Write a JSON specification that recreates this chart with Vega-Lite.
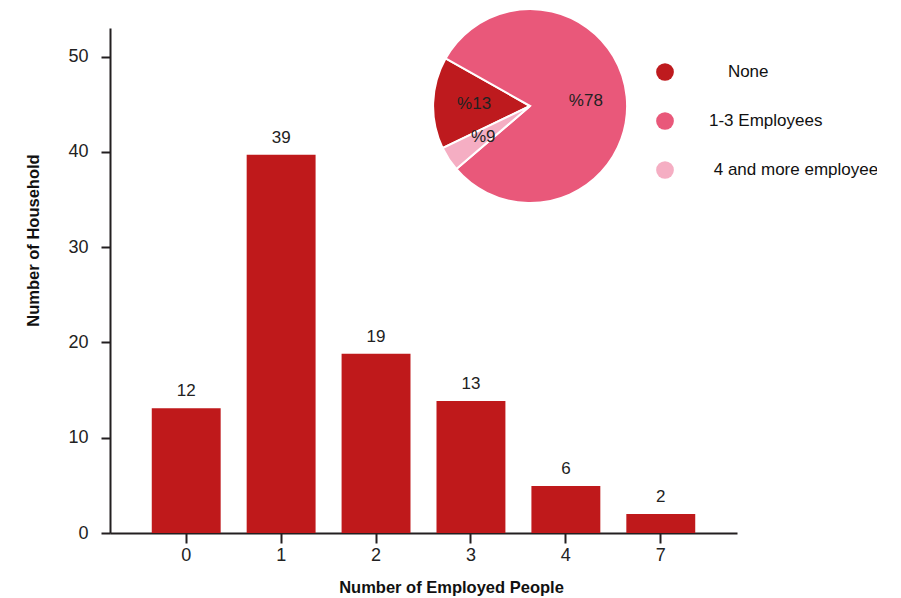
{
  "$schema": "https://vega.github.io/schema/vega-lite/v6.json",
  "autosize": {"type": "none"},
  "width": 627,
  "height": 505,
  "padding": {"left": 110, "top": 28, "right": 140, "bottom": 65},
  "background": "white",
  "config": {
    "view": {"stroke": null},
    "font": "Liberation Sans",
    "axis": {
      "domainColor": "#231F20",
      "domainWidth": 2,
      "tickColor": "#231F20",
      "tickWidth": 2,
      "labelFont": "Liberation Sans",
      "labelFontSize": 18,
      "labelColor": "#222222",
      "titleFont": "Liberation Sans",
      "titleFontSize": 16.5,
      "titleFontWeight": "bold",
      "titleColor": "#111111",
      "grid": false
    }
  },
  "layer": [
    {
      "data": {
        "values": [
          {"employed": "0", "households": 13.1, "label": "12"},
          {"employed": "1", "households": 39.7, "label": "39"},
          {"employed": "2", "households": 18.8, "label": "19"},
          {"employed": "3", "households": 13.85, "label": "13"},
          {"employed": "4", "households": 4.93, "label": "6"},
          {"employed": "7", "households": 2.0, "label": "2"}
        ]
      },
      "encoding": {
        "x": {
          "field": "employed",
          "type": "ordinal",
          "sort": null,
          "scale": {"paddingInner": 0.274, "paddingOuter": 0.44},
          "axis": {
            "title": "Number of Employed People",
            "labelAngle": 0,
            "tickSize": 10,
            "labelPadding": 3,
            "titleX": 341,
            "titleY": 54,
            "titleAlign": "center",
            "titleBaseline": "middle"
          }
        },
        "y": {
          "field": "households",
          "type": "quantitative",
          "scale": {"domain": [0, 53], "nice": false},
          "axis": {
            "title": "Number of Household",
            "values": [0, 10, 20, 30, 40, 50],
            "tickSize": 9,
            "labelPadding": 13,
            "titleX": -77,
            "titleY": 212,
            "titleAlign": "center",
            "titleBaseline": "middle",
            "titleAngle": -90
          }
        }
      },
      "layer": [
        {"mark": {"type": "bar", "color": "#BF191B"}},
        {
          "mark": {"type": "text", "baseline": "bottom", "dy": -8, "fontSize": 17, "color": "#222222"},
          "encoding": {"text": {"field": "label"}}
        }
      ]
    },
    {
      "data": {
        "values": [
          {"group": "None", "share": 15.3, "text": "%13", "rank": 1},
          {"group": "1-3 Employees", "share": 80.6, "text": "%78", "rank": 2},
          {"group": "4 and more employees", "share": 4.1, "text": "%9", "rank": 3}
        ]
      },
      "encoding": {
        "theta": {
          "field": "share",
          "type": "quantitative",
          "stack": true,
          "scale": {"range": [4.264, 10.547]}
        },
        "order": {"field": "rank", "type": "quantitative"}
      },
      "layer": [
        {
          "mark": {
            "type": "arc",
            "radius": 97,
            "stroke": "white",
            "strokeWidth": 2,
            "x": {"expr": "width * 0.67"},
            "y": {"expr": "height * 0.1545"}
          },
          "encoding": {
            "color": {
              "field": "group",
              "type": "nominal",
              "sort": ["None", "1-3 Employees", "4 and more employees"],
              "scale": {
                "domain": ["None", "1-3 Employees", "4 and more employees"],
                "range": ["#BE1A1E", "#E9587A", "#F5AEC3"]
              },
              "legend": {
                "title": null,
                "orient": "none",
                "legendX": 546,
                "legendY": 35,
                "padding": 0,
                "symbolType": "circle",
                "symbolSize": 314,
                "symbolStrokeWidth": 0,
                "symbolOpacity": 1,
                "rowPadding": 31,
                "labelOffset": 35,
                "labelFont": "Liberation Sans",
                "labelFontSize": 17,
                "labelColor": "#111111",
                "labelLimit": 400,
                "labelExpr": "datum.label == 'None' ? '\u200b\u00a0\u00a0\u00a0\u00a0None' : datum.label == '4 and more employees' ? '\u200b\u00a0' + datum.label : datum.label"
              }
            }
          }
        },
        {
          "mark": {
            "type": "text",
            "radius": 56,
            "fontSize": 17,
            "color": "#222222",
            "x": {"expr": "width * 0.67"},
            "y": {"expr": "height * 0.1545"}
          },
          "encoding": {"text": {"field": "text"}}
        }
      ]
    }
  ],
  "resolve": {"scale": {"x": "independent", "y": "independent", "theta": "independent", "color": "independent"}}
}
